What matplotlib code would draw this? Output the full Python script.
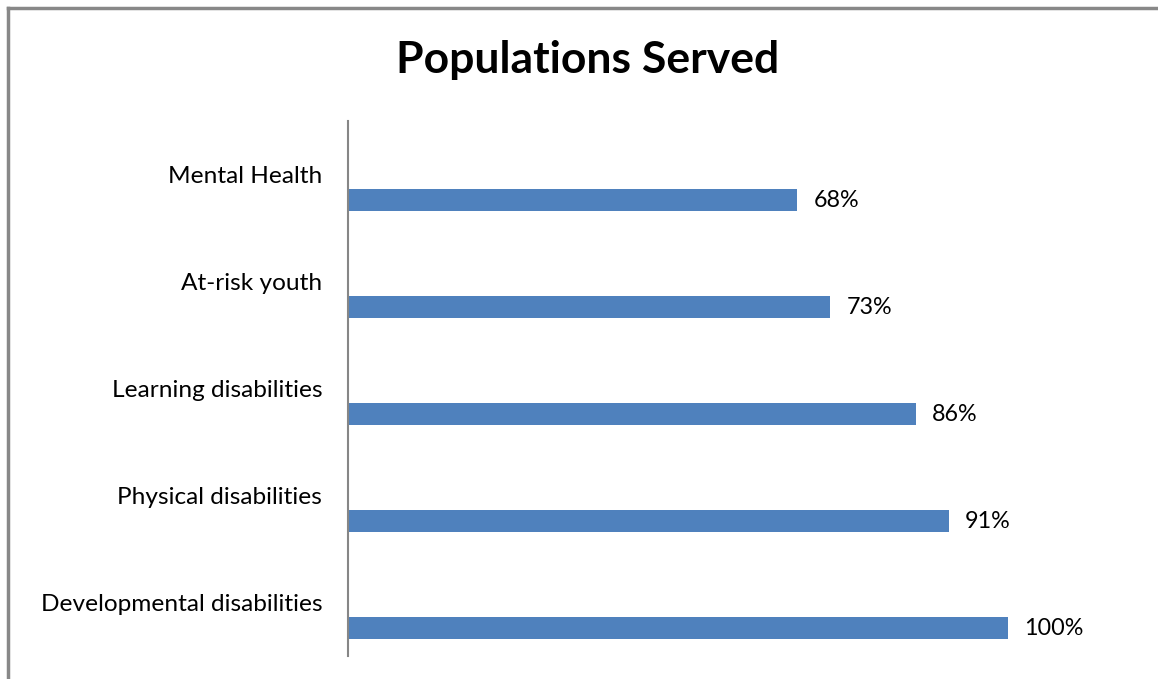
import matplotlib
matplotlib.use('Agg')
import matplotlib.pyplot as plt
from matplotlib.lines import Line2D

# dados
categories = ['Mental Health', 'At-risk youth', 'Learning disabilities',
              'Physical disabilities', 'Developmental disabilities']
values = [68, 73, 86, 91, 100]
value_labels = ['68%', '73%', '86%', '91%', '100%']

plt.rcParams['font.family'] = ['Lato', 'DejaVu Sans']

fig = plt.figure(figsize=(11.58, 6.79), dpi=100)
ax = fig.add_axes([348 / 1158, 1 - 656 / 679, (1008 - 348) / 1158, (656 - 121) / 679])

pos = list(range(len(categories)))
bar_pos = [p + 0.24 for p in pos]
ax.barh(bar_pos, values, height=0.2, color='#4F81BD')

for y, v, lab in zip(bar_pos, values, value_labels):
    ax.text(v + 2.5, y, lab, va='center', ha='left', fontsize=16.8, color='black')

ax.set_xlim(0, 100)
ax.set_ylim(-0.5, len(categories) - 0.5)
ax.invert_yaxis()
ax.set_yticks(pos)
ax.set_yticklabels(categories, fontsize=17.6)
ax.tick_params(axis='y', length=0, pad=18.5)
ax.set_xticks([])
for s in ['top', 'right', 'bottom']:
    ax.spines[s].set_visible(False)
ax.spines['left'].set_color('#868686')
ax.spines['left'].set_linewidth(1.5)

fig.text(588 / 1158, 1 - 60 / 679, 'Populations Served', ha='center', va='center',
         fontsize=32, fontweight='bold')

# moldura
fig.add_artist(Line2D([8 / 1158, 8 / 1158], [0, 1 - 8 / 679], color='#888888', lw=2.5,
                      transform=fig.transFigure))
fig.add_artist(Line2D([8 / 1158, 1], [1 - 8 / 679, 1 - 8 / 679], color='#888888', lw=2.5,
                      transform=fig.transFigure))

fig.savefig('out.png', dpi=100)
